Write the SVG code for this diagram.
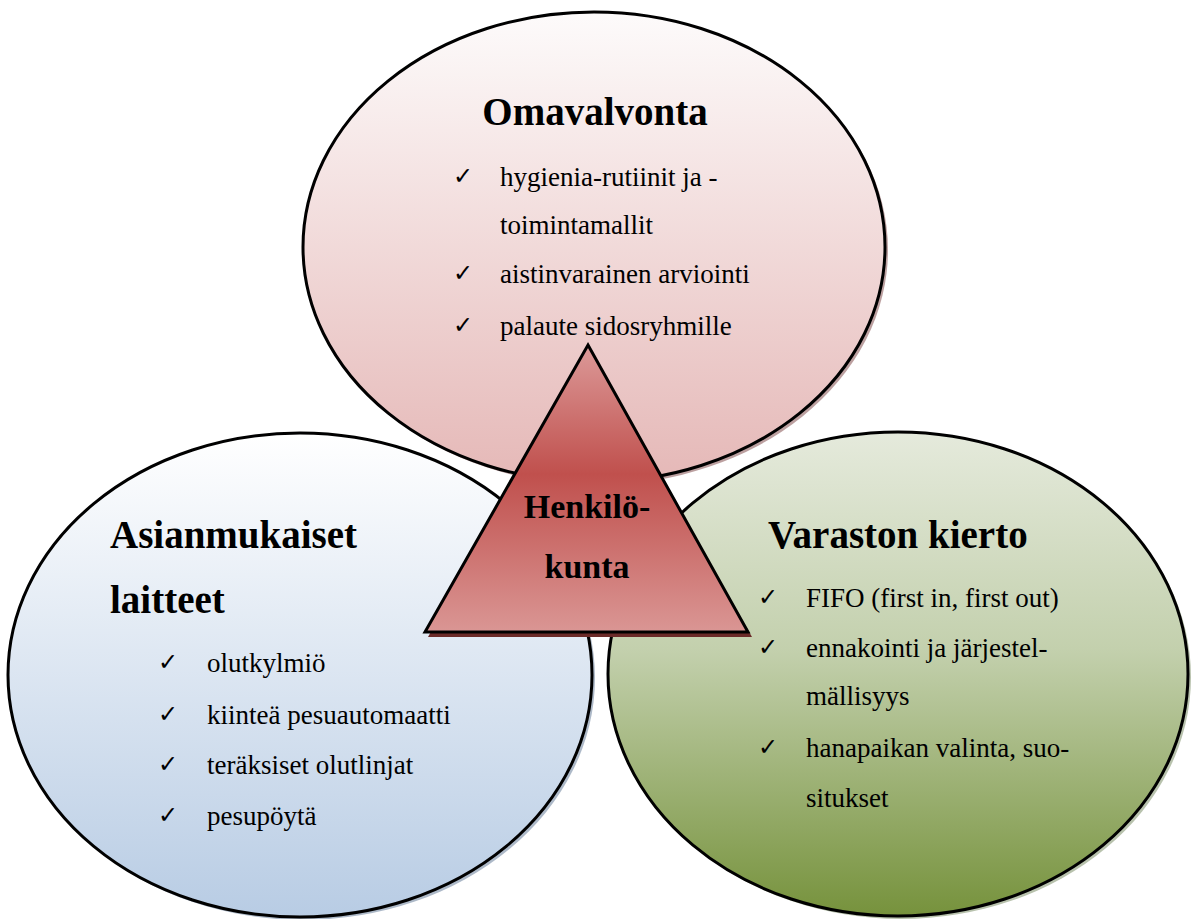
<svg xmlns="http://www.w3.org/2000/svg" width="1192" height="919" viewBox="0 0 1192 919">
<defs>
<linearGradient id="gTop" x1="0" y1="0" x2="0" y2="1"><stop offset="0" stop-color="#fdfbfb"/><stop offset="1" stop-color="#e5b8b7"/></linearGradient>
<linearGradient id="gLeft" x1="0" y1="0" x2="0" y2="1"><stop offset="0" stop-color="#ffffff"/><stop offset="1" stop-color="#b8cce4"/></linearGradient>
<linearGradient id="gRight" x1="0" y1="0" x2="0" y2="1"><stop offset="0" stop-color="#e5eadc"/><stop offset="0.45" stop-color="#c3d0ad"/><stop offset="1" stop-color="#76923c"/></linearGradient>
<linearGradient id="gTri" x1="0" y1="0" x2="0" y2="1"><stop offset="0" stop-color="#dc9a99"/><stop offset="0.45" stop-color="#c0504d"/><stop offset="1" stop-color="#da9694"/></linearGradient>
</defs>
<style>
.el{stroke:#000;stroke-width:3}
.h{font-family:'Liberation Serif',serif;font-weight:bold;font-size:39px;fill:#000}
.t{font-family:'Liberation Serif',serif;font-size:27px;fill:#000}
.c{font-family:'DejaVu Sans',sans-serif;font-size:24px;fill:#000}
.hk{font-family:'Liberation Serif',serif;font-weight:bold;font-size:34px;fill:#000;text-anchor:middle}
</style>
<g id="left">
<ellipse cx="303" cy="678" rx="292" ry="242" fill="#8a9bb0" opacity="0.7"/>
<ellipse class="el" cx="300" cy="675" rx="292" ry="242" fill="url(#gLeft)"/>
<text class="h" x="110" y="548">Asianmukaiset</text>
<text class="h" x="110" y="613">laitteet</text>
<text class="c" x="158" y="670">✓</text><text class="t" x="207" y="672">olutkylmiö</text>
<text class="c" x="158" y="722">✓</text><text class="t" x="207" y="724">kiinteä pesuautomaatti</text>
<text class="c" x="158" y="772">✓</text><text class="t" x="207" y="774">teräksiset olutlinjat</text>
<text class="c" x="158" y="823">✓</text><text class="t" x="207" y="825">pesupöytä</text>
</g>
<g id="right">
<ellipse cx="901" cy="677" rx="290" ry="242" fill="#9aa88a" opacity="0.7"/>
<ellipse class="el" cx="898" cy="674" rx="290" ry="242" fill="url(#gRight)"/>
<text class="h" x="768" y="548">Varaston kierto</text>
<text class="c" x="758" y="605">✓</text><text class="t" x="806" y="607">FIFO (first in, first out)</text>
<text class="c" x="758" y="655">✓</text><text class="t" x="806" y="657">ennakointi ja järjestel-</text>
<text class="t" x="806" y="705">mällisyys</text>
<text class="c" x="758" y="755">✓</text><text class="t" x="806" y="757">hanapaikan valinta, suo-</text>
<text class="t" x="806" y="807">situkset</text>
</g>
<g id="top">
<ellipse cx="597" cy="250" rx="291" ry="235" fill="#a07878" opacity="0.7"/>
<ellipse class="el" cx="594" cy="247" rx="291" ry="235" fill="url(#gTop)"/>
<text class="h" x="595" y="125" text-anchor="middle">Omavalvonta</text>
<text class="c" x="453" y="184">✓</text><text class="t" x="500" y="186">hygienia-rutiinit ja -</text>
<text class="t" x="500" y="234">toimintamallit</text>
<text class="c" x="453" y="281">✓</text><text class="t" x="500" y="283">aistinvarainen arviointi</text>
<text class="c" x="453" y="333">✓</text><text class="t" x="500" y="335">palaute sidosryhmille</text>
</g>
<g id="henkilokunta">
<polygon points="588,350 752,637 428,637" fill="#6b2a28"/>
<polygon points="588,345 748,632 425,632" fill="url(#gTri)" stroke="#000" stroke-width="3" stroke-linejoin="miter"/>
<text class="hk" x="587" y="518">Henkilö-</text>
<text class="hk" x="587" y="578">kunta</text>
</g>
<g id="connectors"></g>
</svg>
